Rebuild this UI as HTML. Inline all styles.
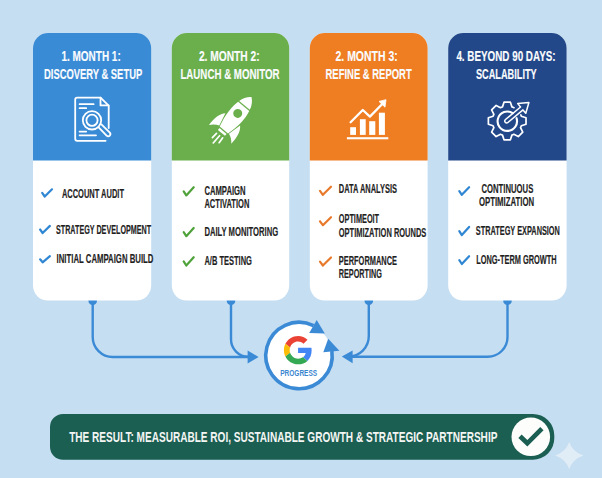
<!DOCTYPE html>
<html><head><meta charset="utf-8"><style>
html,body{margin:0;padding:0;background:#c5def2;}
body{width:602px;height:478px;overflow:hidden;}
svg{display:block;font-family:"Liberation Sans",sans-serif;}
</style></head><body>
<svg width="602" height="478" viewBox="0 0 602 478">
<rect width="602" height="478" fill="#c5def2"/>
<g fill="none" stroke="#3b8ad6" stroke-width="2.4" stroke-linecap="round" stroke-linejoin="round">
<path d="M92.7,300.5 V337 A20,20 0 0 0 112.7,357 H249"/>
<path d="M231,300.5 V339 A17.5,17.5 0 0 0 248.5,356.8"/>
<path d="M368.8,300.5 V336 A20.5,20.5 0 0 1 348.3,356.6"/>
<path d="M507.5,300.5 V337 A19.8,19.8 0 0 1 487.7,356.8 H350"/>
</g>
<g fill="#3b8ad6">
<circle cx="92.7" cy="300.8" r="4.3"/><circle cx="231" cy="300.8" r="4.3"/><circle cx="368.8" cy="300.8" r="4.3"/><circle cx="507.5" cy="300.8" r="4.3"/>
<path d="M247.6,350.4 L258.6,357 L247.6,363.4 Z"/>
<path d="M352.6,350.4 L341.8,356.6 L352.6,363.2 Z"/>
</g>
<rect x="33" y="33" width="118.20" height="267.60" rx="15" fill="#fff"/>
<path d="M33,160.5 V48 A15,15 0 0 1 48,33 H136.2 A15,15 0 0 1 151.2,48 V160.5 Z" fill="#3a8bd6"/>
<rect x="171.8" y="33" width="117.40" height="267.60" rx="15" fill="#fff"/>
<path d="M171.8,160.5 V48 A15,15 0 0 1 186.8,33 H274.2 A15,15 0 0 1 289.2,48 V160.5 Z" fill="#6aaf4c"/>
<rect x="309.8" y="33" width="117.80" height="267.60" rx="15" fill="#fff"/>
<path d="M309.8,160.5 V48 A15,15 0 0 1 324.8,33 H412.6 A15,15 0 0 1 427.6,48 V160.5 Z" fill="#ef7d22"/>
<rect x="448.2" y="33" width="118.40" height="267.60" rx="15" fill="#fff"/>
<path d="M448.2,160.5 V48 A15,15 0 0 1 463.2,33 H551.6 A15,15 0 0 1 566.6,48 V160.5 Z" fill="#22488a"/>
<text x="61.50" y="60.90" font-size="14.6" font-weight="bold" fill="#fafcfe" stroke="#fafcfe" stroke-width="0.15" stroke-linejoin="round" textLength="59.20" lengthAdjust="spacingAndGlyphs">1. MONTH 1:</text>
<text x="44.00" y="78.50" font-size="14.6" font-weight="bold" fill="#fafcfe" stroke="#fafcfe" stroke-width="0.15" stroke-linejoin="round" textLength="98.20" lengthAdjust="spacingAndGlyphs">DISCOVERY &amp; SETUP</text>
<text x="198.90" y="60.90" font-size="14.6" font-weight="bold" fill="#fafcfe" stroke="#fafcfe" stroke-width="0.15" stroke-linejoin="round" textLength="60.80" lengthAdjust="spacingAndGlyphs">2. MONTH 2:</text>
<text x="180.40" y="78.90" font-size="14.6" font-weight="bold" fill="#fafcfe" stroke="#fafcfe" stroke-width="0.15" stroke-linejoin="round" textLength="99.20" lengthAdjust="spacingAndGlyphs">LAUNCH &amp; MONITOR</text>
<text x="335.50" y="60.90" font-size="14.6" font-weight="bold" fill="#fafcfe" stroke="#fafcfe" stroke-width="0.15" stroke-linejoin="round" textLength="62.20" lengthAdjust="spacingAndGlyphs">2. MONTH 3:</text>
<text x="325.50" y="78.50" font-size="14.6" font-weight="bold" fill="#fafcfe" stroke="#fafcfe" stroke-width="0.15" stroke-linejoin="round" textLength="86.20" lengthAdjust="spacingAndGlyphs">REFINE &amp; REPORT</text>
<text x="456.40" y="60.90" font-size="14.6" font-weight="bold" fill="#fafcfe" stroke="#fafcfe" stroke-width="0.15" stroke-linejoin="round" textLength="99.20" lengthAdjust="spacingAndGlyphs">4. BEYOND 90 DAYS:</text>
<text x="475.90" y="78.50" font-size="14.6" font-weight="bold" fill="#fafcfe" stroke="#fafcfe" stroke-width="0.15" stroke-linejoin="round" textLength="60.80" lengthAdjust="spacingAndGlyphs">SCALABILITY</text>
<text x="61.90" y="197.60" font-size="12.0" font-weight="bold" fill="#1f1f1f" stroke="#1f1f1f" stroke-width="0.18" stroke-linejoin="round" textLength="62.10" lengthAdjust="spacingAndGlyphs">ACCOUNT AUDIT</text>
<text x="56.00" y="233.50" font-size="12.0" font-weight="bold" fill="#1f1f1f" stroke="#1f1f1f" stroke-width="0.18" stroke-linejoin="round" textLength="95.10" lengthAdjust="spacingAndGlyphs">STRATEGY DEVELOPMENT</text>
<text x="56.60" y="262.80" font-size="12.0" font-weight="bold" fill="#1f1f1f" stroke="#1f1f1f" stroke-width="0.18" stroke-linejoin="round" textLength="96.80" lengthAdjust="spacingAndGlyphs">INITIAL CAMPAIGN BUILD</text>
<text x="204.40" y="194.90" font-size="12.0" font-weight="bold" fill="#1f1f1f" stroke="#1f1f1f" stroke-width="0.18" stroke-linejoin="round" textLength="41.20" lengthAdjust="spacingAndGlyphs">CAMPAIGN</text>
<text x="204.40" y="208.00" font-size="12.0" font-weight="bold" fill="#1f1f1f" stroke="#1f1f1f" stroke-width="0.18" stroke-linejoin="round" textLength="45.00" lengthAdjust="spacingAndGlyphs">ACTIVATION</text>
<text x="204.40" y="236.00" font-size="12.0" font-weight="bold" fill="#1f1f1f" stroke="#1f1f1f" stroke-width="0.18" stroke-linejoin="round" textLength="73.80" lengthAdjust="spacingAndGlyphs">DAILY MONITORING</text>
<text x="204.40" y="265.30" font-size="12.0" font-weight="bold" fill="#1f1f1f" stroke="#1f1f1f" stroke-width="0.18" stroke-linejoin="round" textLength="47.50" lengthAdjust="spacingAndGlyphs">A/B TESTING</text>
<text x="338.80" y="193.40" font-size="12.0" font-weight="bold" fill="#1f1f1f" stroke="#1f1f1f" stroke-width="0.18" stroke-linejoin="round" textLength="58.20" lengthAdjust="spacingAndGlyphs">DATA ANALYSIS</text>
<text x="338.80" y="223.40" font-size="12.0" font-weight="bold" fill="#1f1f1f" stroke="#1f1f1f" stroke-width="0.18" stroke-linejoin="round" textLength="40.30" lengthAdjust="spacingAndGlyphs">OPTIMEOIT</text>
<text x="338.80" y="236.70" font-size="12.0" font-weight="bold" fill="#1f1f1f" stroke="#1f1f1f" stroke-width="0.18" stroke-linejoin="round" textLength="87.50" lengthAdjust="spacingAndGlyphs">OPTIMIZATION ROUNDS</text>
<text x="338.80" y="264.80" font-size="12.0" font-weight="bold" fill="#1f1f1f" stroke="#1f1f1f" stroke-width="0.18" stroke-linejoin="round" textLength="58.20" lengthAdjust="spacingAndGlyphs">PERFORMANCE</text>
<text x="338.80" y="278.20" font-size="12.0" font-weight="bold" fill="#1f1f1f" stroke="#1f1f1f" stroke-width="0.18" stroke-linejoin="round" textLength="43.10" lengthAdjust="spacingAndGlyphs">REPORTING</text>
<text x="481.50" y="192.80" font-size="12.0" font-weight="bold" fill="#1f1f1f" stroke="#1f1f1f" stroke-width="0.18" stroke-linejoin="round" textLength="51.80" lengthAdjust="spacingAndGlyphs">CONTINUOUS</text>
<text x="478.90" y="205.90" font-size="12.0" font-weight="bold" fill="#1f1f1f" stroke="#1f1f1f" stroke-width="0.18" stroke-linejoin="round" textLength="55.20" lengthAdjust="spacingAndGlyphs">OPTIMIZATION</text>
<text x="475.80" y="234.60" font-size="12.0" font-weight="bold" fill="#1f1f1f" stroke="#1f1f1f" stroke-width="0.18" stroke-linejoin="round" textLength="84.10" lengthAdjust="spacingAndGlyphs">STRATEGY EXPANSION</text>
<text x="476.20" y="263.90" font-size="12.0" font-weight="bold" fill="#1f1f1f" stroke="#1f1f1f" stroke-width="0.18" stroke-linejoin="round" textLength="80.50" lengthAdjust="spacingAndGlyphs">LONG-TERM GROWTH</text>
<polyline points="42.20,192.97 44.73,196.50 52.00,189.30" fill="none" stroke="#2f86d3" stroke-width="2.2" stroke-linecap="round" stroke-linejoin="round"/>
<polyline points="40.10,229.52 42.63,233.00 49.90,225.90" fill="none" stroke="#2f86d3" stroke-width="2.2" stroke-linecap="round" stroke-linejoin="round"/>
<polyline points="40.10,259.30 42.63,262.30 49.90,256.20" fill="none" stroke="#2f86d3" stroke-width="2.2" stroke-linecap="round" stroke-linejoin="round"/>
<polyline points="183.70,191.39 186.29,195.40 193.70,187.20" fill="none" stroke="#4fa23a" stroke-width="2.2" stroke-linecap="round" stroke-linejoin="round"/>
<polyline points="183.70,232.19 186.29,236.20 193.70,228.00" fill="none" stroke="#4fa23a" stroke-width="2.2" stroke-linecap="round" stroke-linejoin="round"/>
<polyline points="183.70,261.44 186.29,265.50 193.70,257.20" fill="none" stroke="#4fa23a" stroke-width="2.2" stroke-linecap="round" stroke-linejoin="round"/>
<polyline points="320.00,190.84 322.88,194.80 331.00,186.70" fill="none" stroke="#e8792a" stroke-width="2.2" stroke-linecap="round" stroke-linejoin="round"/>
<polyline points="320.00,221.28 322.88,225.20 331.00,217.20" fill="none" stroke="#e8792a" stroke-width="2.2" stroke-linecap="round" stroke-linejoin="round"/>
<polyline points="320.00,261.58 322.88,265.50 331.00,257.50" fill="none" stroke="#e8792a" stroke-width="2.2" stroke-linecap="round" stroke-linejoin="round"/>
<polyline points="459.30,191.08 461.83,194.80 469.10,187.20" fill="none" stroke="#2f86d3" stroke-width="2.2" stroke-linecap="round" stroke-linejoin="round"/>
<polyline points="459.30,231.09 461.83,235.10 469.10,226.90" fill="none" stroke="#2f86d3" stroke-width="2.2" stroke-linecap="round" stroke-linejoin="round"/>
<polyline points="459.30,260.18 461.83,264.00 469.10,256.20" fill="none" stroke="#2f86d3" stroke-width="2.2" stroke-linecap="round" stroke-linejoin="round"/>
<g fill="none" stroke="#ffffff" stroke-width="1.8" stroke-linecap="round" stroke-linejoin="round">
<path d="M100.5,97.6 H77.2 Q75.2,97.6 75.2,99.6 V138.8 Q75.2,140.8 77.2,140.8 H105.6"/>
<path d="M100.5,97.6 L108.7,105.6 V128"/>
<path d="M100.5,97.8 V105.4 H108.5"/>
<path d="M79.6,104.2 H93.6 M79.6,108.2 H86.2 M79.6,131.6 H86.2 M79.6,135.3 H96"/>
<circle cx="92" cy="120.3" r="9.2"/>
<circle cx="92" cy="120.3" r="5.6"/>
<path d="M98.4,127.2 L106.6,135.6 Q108.2,137.2 109.8,135.6 Q111.2,134.0 109.6,132.4 L101.4,124.4"/>
</g>
<g fill="#ffffff">
<rect x="346.9" y="137.2" width="41.4" height="2.1"/>
<rect x="350.2" y="127.2" width="5.8" height="7.7"/>
<rect x="359.9" y="119.2" width="5.8" height="15.7"/>
<rect x="369.2" y="121.2" width="6.1" height="13.7"/>
<rect x="378.9" y="112.7" width="6.0" height="22.2"/>
<path d="M350.6,122.3 L362.8,110 L369.9,116.6 L382.0,104.2" fill="none" stroke="#ffffff" stroke-width="2.3" stroke-linecap="round" stroke-linejoin="round"/>
<path d="M386.0,99.7 L379.0,101.4 L385.0,107.2 Z" stroke="#ffffff" stroke-width="0.8" stroke-linejoin="round"/>
</g>
<g fill="none" stroke="#ffffff" stroke-width="1.7" stroke-linejoin="round" stroke-linecap="round">
<path d="M520.81,114.94 A14.9,14.9 0 0 1 521.33,116.28 L526.03,117.81 L526.03,124.19 L521.33,125.72 A14.9,14.9 0 0 1 520.53,127.66 L522.77,132.06 L518.26,136.57 L513.86,134.33 A14.9,14.9 0 0 1 511.92,135.13 L510.39,139.83 L504.01,139.83 L502.48,135.13 A14.9,14.9 0 0 1 500.54,134.33 L496.14,136.57 L491.63,132.06 L493.87,127.66 A14.9,14.9 0 0 1 493.07,125.72 L488.37,124.19 L488.37,117.81 L493.07,116.28 A14.9,14.9 0 0 1 493.87,114.34 L491.63,109.94 L496.14,105.43 L500.54,107.67 A14.9,14.9 0 0 1 502.48,106.87 L504.01,102.17 L510.39,102.17 L511.92,106.87 A14.9,14.9 0 0 1 513.96,107.72"/>
<path d="M516.53,118.20 A9.7,9.7 0 1 1 512.72,113.16" stroke-width="2.1"/>
<path transform="translate(506.7,121.0) rotate(-39.8)" d="M0,-1.9 L19.6,-1.9 L19.6,-6.3 L28.9,0 L19.6,6.3 L19.6,1.9 L0,1.9 A1.9,1.9 0 0 1 0,-1.9 Z" stroke-width="1.5"/>
</g>
<g transform="translate(251.5,97) rotate(40)" fill="#ffffff">
<path d="M0,0 C-3.2,2.2 -6,6.5 -6.9,10.9 L6.9,10.9 C6,6.5 3.2,2.2 0,0 Z"/>
<path d="M-7.2,12.1 L7.2,12.1 C9.2,20 8.8,31 5.4,43 L-5.4,43 C-8.8,31 -9.2,20 -7.2,12.1 Z"/>
<path d="M-9.6,29.2 C-13.6,33 -15.2,40 -14.6,48.8 C-12.2,45.6 -9.4,43.6 -6.3,42.6 Z"/>
<path d="M9.6,29.2 C13.6,33 15.2,40 14.6,48.8 C12.2,45.6 9.4,43.6 6.3,42.6 Z"/>
<rect x="-4.6" y="44.3" width="9.2" height="2.5"/>
<path d="M-3.4,50.4 L-3.9,56.2 M0.4,50.2 L0.2,59.8 M4.2,49.8 L4.6,55.8" stroke="#ffffff" stroke-width="1.7" stroke-linecap="round"/>
<circle cx="0" cy="21.4" r="4.5" fill="#6aaf4c"/>
</g>
<circle cx="299" cy="355.5" r="33" fill="#fff"/>
<path d="M331.88,350.88 A33.2,33.2 0 1 1 313.55,325.66" fill="none" stroke="#3b8ad6" stroke-width="3.6"/>
<path d="M316.7,320.0 L324.8,333.4 L309.2,332.9 Z" fill="#3b8ad6"/>
<path d="M328.2,338.8 L339.4,350.8 L323.3,352.2 Z" fill="#3b8ad6"/>
<g transform="translate(283.9,336.0) scale(0.59)">
<path fill="#EA4335" d="M24 9.5c3.54 0 6.71 1.22 9.21 3.6l6.85-6.85C35.9 2.38 30.47 0 24 0 14.62 0 6.51 5.380 2.56 13.22l7.98 6.19C12.43 13.72 17.74 9.5 24 9.5z"/>
<path fill="#4285F4" d="M46.98 24.55c0-1.57-.15-3.09-.38-4.55H24v9.02h12.94c-.58 2.96-2.26 5.48-4.78 7.18l7.73 6c4.51-4.18 7.09-10.36 7.09-17.65z"/>
<path fill="#FBBC05" d="M10.53 28.59c-.48-1.450-.76-2.99-.76-4.59s.27-3.14.76-4.59l-7.98-6.19C.92 16.46 0 20.12 0 24c0 3.88.92 7.54 2.56 10.780l7.97-6.19z"/>
<path fill="#34A853" d="M24 48c6.48 0 11.930-2.13 15.89-5.81l-7.73-6c-2.15 1.45-4.92 2.3-8.16 2.3-6.26 0-11.57-4.22-13.47-9.91l-7.98 6.19C6.51 42.62 14.62 48 24 48z"/>
</g>
<text x="280.20" y="375.80" font-size="8.6" font-weight="bold" fill="#3a86cf" textLength="37.00" lengthAdjust="spacingAndGlyphs">PROGRESS</text>
<path d="M63,413.9 H532.8 A21.5,21.5 0 0 1 554.3,435.4 V438.2 A21.5,21.5 0 0 1 532.8,459.7 H63 A13,13 0 0 1 50,446.7 V426.9 A13,13 0 0 1 63,413.9 Z" fill="#1b5e52"/>
<text x="69.20" y="441.90" font-size="15.5" font-weight="bold" fill="#f4f6f4" textLength="428.20" lengthAdjust="spacingAndGlyphs">THE RESULT: MEASURABLE ROI, SUSTAINABLE GROWTH &amp; STRATEGIC PARTNERSHIP</text>
<circle cx="530.8" cy="436.8" r="19.3" fill="#fdfdfb"/>
<polyline points="520.0,436.3 527.3,443.3 541.9,428.7" fill="none" stroke="#1b5e52" stroke-width="4.7" stroke-linecap="butt" stroke-linejoin="miter"/>
<path d="M569.2,442.0 Q572.8000000000001,452.0 583.3000000000001,455.6 Q572.8000000000001,459.20000000000005 569.2,469.20000000000005 Q565.6,459.20000000000005 555.1,455.6 Q565.6,452.0 569.2,442.0 Z" fill="#e0ecf6"/>
</svg>
</body></html>
